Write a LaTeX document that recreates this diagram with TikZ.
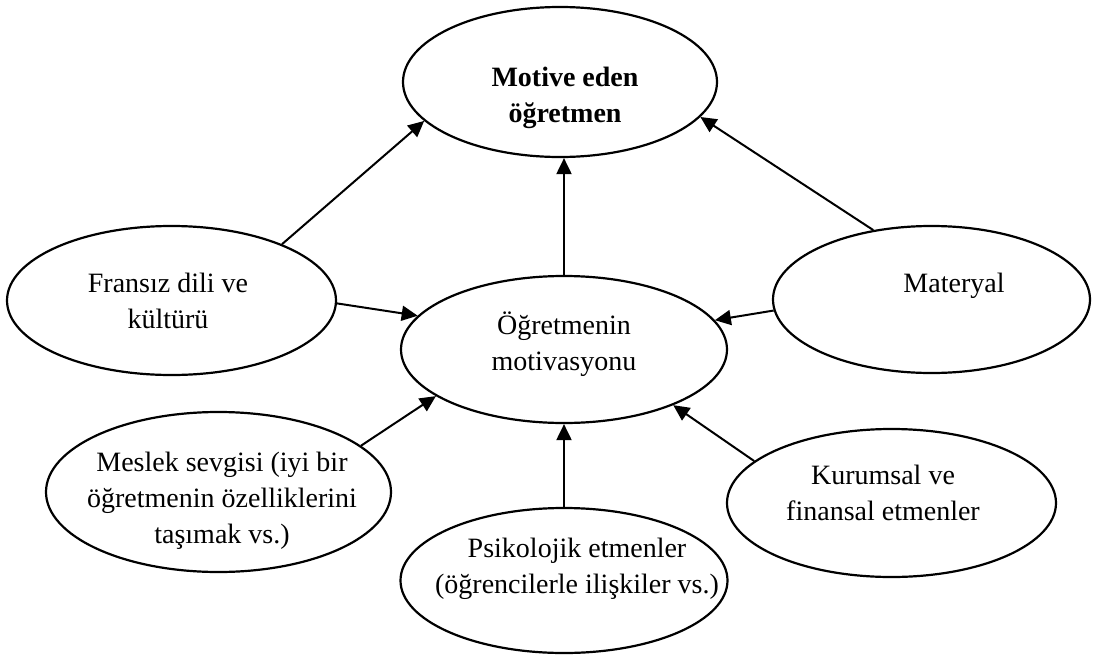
\documentclass[tikz,border=0pt]{standalone}
\usepackage{fontspec}
\setmainfont{Liberation Serif}
\usetikzlibrary{shapes.geometric,arrows.meta}
\tikzset{
  ell/.style={draw, ellipse, line width=2.2pt, inner sep=0pt},
  txt/.style={font=\fontsize{28}{36}\selectfont, align=center, inner sep=0pt, anchor=base},
  arr/.style={line width=2pt, -{Triangle[length=16pt,width=15pt]}}
}
\begin{document}
\begin{tikzpicture}[x=1pt,y=-1pt]
\useasboundingbox (0,0) rectangle (1093,656);
% ellipses
\node[ell, minimum width=314pt, minimum height=150pt] (top) at (560,82) {};
\node[ell, minimum width=326pt, minimum height=147pt] (ctr) at (564,349.5) {};
\node[ell, minimum width=329pt, minimum height=149pt] (fr) at (171.5,300.5) {};
\node[ell, minimum width=317pt, minimum height=147pt] (mat) at (931.5,299.5) {};
\node[ell, minimum width=345pt, minimum height=160pt] (mes) at (218.5,492) {};
\node[ell, minimum width=327pt, minimum height=145pt] (psi) at (564,580.5) {};
\node[ell, minimum width=329pt, minimum height=148pt] (kur) at (891.5,503) {};
% texts (anchor = baseline of last line)
\node[txt, font=\fontsize{28}{36}\selectfont\bfseries] (topT) at (565,122) {Motive eden\\öğretmen};
\node[txt] (ctrT) at (564,370) {Öğretmenin\\motivasyonu};
\node[txt] (frT) at (168,328) {Fransız dili ve\\kültürü};
\node[txt] (matT) at (954,292) {Materyal};
\node[txt] (mesT) at (222,543) {Meslek sevgisi (iyi bir\\öğretmenin özelliklerini\\taşımak vs.)};
\node[txt] (psiT) at (577,593) {Psikolojik etmenler\\(öğrencilerle ilişkiler vs.)};
\node[txt] (kurT) at (883,520) {Kurumsal ve\\finansal etmenler};
% connectors
\draw[arr] (fr.27.3) -- (top.196);
\draw[arr] (fr.-1.6) -- (ctr.167.4);
\draw[arr] (ctr.north) -- (ctr.north |- top.south);
\draw[arr] (mat.130.5) -- (top.-14.2);
\draw[arr] (mat.184.1) -- (ctr.11);
\draw[arr] (mes.18.1) -- (ctr.200.5);
\draw[arr] (kur.163.9) -- (ctr.333.6);
\draw[arr] (psi.north) -- (psi.north |- ctr.south);
\end{tikzpicture}
\end{document}
